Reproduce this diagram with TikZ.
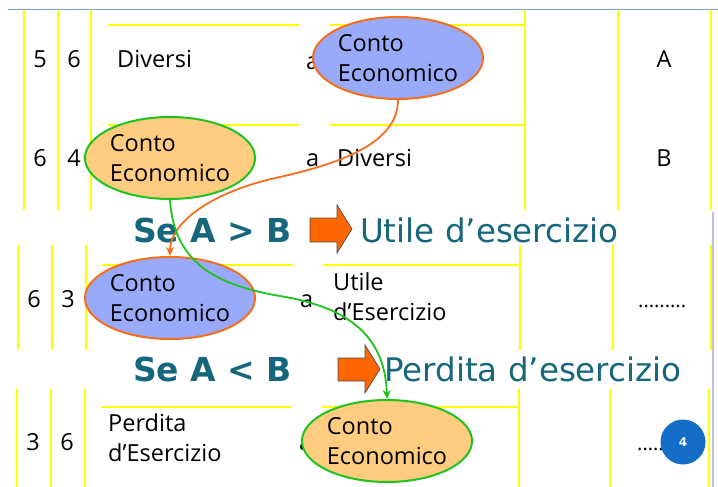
\documentclass[tikz,border=0pt]{standalone}
\usepackage{fontspec}
\setmainfont{Open Sans}
\newfontfamily\verdana{DejaVu Sans}
\usetikzlibrary{shapes.geometric, arrows.meta}
\definecolor{ceblue}{RGB}{153,170,250}
\definecolor{ceorange}{RGB}{255,204,128}
\definecolor{lineorange}{RGB}{245,110,30}
\definecolor{linegreen}{RGB}{30,195,30}
\definecolor{gridyellow}{RGB}{255,255,0}
\definecolor{seteal}{RGB}{22,102,124}
\definecolor{arroworange}{RGB}{255,102,0}
\definecolor{pageblue}{RGB}{20,110,200}
\newcommand{\cfont}{\fontsize{23.5}{30}\selectfont}

\begin{document}
\begin{tikzpicture}[x=1pt, y=-1pt,
    rule/.style={draw=gridyellow, line width=2.2pt},
    cell/.style={font=\cfont, anchor=base west, inner sep=0pt},
    num/.style={font=\cfont, anchor=base, inner sep=0pt},
    conto/.style={ellipse, draw, line width=2pt, minimum width=154pt, minimum height=82pt,
                  inner sep=0pt, align=left, font=\cfont},
    cond/.style={font=\verdana\bfseries\fontsize{33}{36}\selectfont, text=seteal, anchor=base west, inner sep=0pt},
    result/.style={font=\verdana\fontsize{32.5}{36}\selectfont, text=seteal, anchor=base west, inner sep=0pt},
    bigarrow/.style={draw=gray!60!black, fill=arroworange, line width=0.7pt},
    link/.style={line width=1.8pt, -{Stealth[length=9pt, width=8pt]}}]
    \useasboundingbox (0,0) rectangle (718,487);

    % page frame
    \draw[pageblue!60, line width=1pt] (8,10) -- (718,10);
    \draw[blue!20!gray!40, line width=2pt] (713,212) -- (713,487);

    % table rules
    \foreach \x in {24,58,91,525,618,711} \draw[rule] (\x,10) -- (\x,210);
    \foreach \y in {25,125} {
        \draw[rule] (108,\y) -- (299,\y);
        \draw[rule] (330,\y) -- (525,\y);
    }
    \foreach \x in {18,52,86,520,613,711} \draw[rule] (\x,245) -- (\x,350);
    \draw[rule] (102,265) -- (293,265);
    \draw[rule] (324,265) -- (520,265);
    \foreach \x in {17,51,85,519,610,709} \draw[rule] (\x,389) -- (\x,487);
    \draw[rule] (101,407) -- (292,407);
    \draw[rule] (322,407) -- (519,407);

    % first entries
    \node[num] (n1a) at (40,68) {5};
    \node[num] (n1b) at (74,68) {6};
    \node[cell] (dare1) at (117,68) {Diversi};
    \node[cell] (a1) at (306,70) {a};
    \node[conto, fill=ceblue, draw=lineorange] (ceA) at (398,58) {Conto\\Economico};
    \node[cell, anchor=base] (valA) at (664,68) {A};

    \node[num] (n2a) at (40,166) {6};
    \node[num] (n2b) at (74,166) {4};
    \node[conto, fill=ceorange, draw=linegreen] (ceB) at (170,158) {Conto\\Economico};
    \node[cell] (a2) at (306,166) {a};
    \node[cell] (avere2) at (337,166) {Diversi};
    \node[cell, anchor=base] (valB) at (664,166) {B};

    % case A > B
    \node[cond] (condU) at (133,242) {Se A > B};
    \draw[bigarrow] (310,218) -- (337,218) -- (337,205) -- (352,229) -- (337,253) -- (337,242) -- (310,242) -- cycle;
    \node[result] (utile) at (360,242) {Utile d’esercizio};

    \node[num] (n3a) at (34,307) {6};
    \node[num] (n3b) at (68,307) {3};
    \node[conto, fill=ceblue, draw=lineorange] (ceC) at (170,298) {Conto\\Economico};
    \node[cell] (a3) at (300,307) {a};
    \node[cell, align=left, anchor=north west] (avere3) at (333,272) {Utile\\d’Esercizio};
    \node[cell] (dots3) at (638,307) {\fontsize{20}{20}\selectfont .........};

    % case A < B
    \node[cond] (condP) at (133,381) {Se A < B};
    \draw[bigarrow] (338,358) -- (365,358) -- (365,345) -- (380,369) -- (365,393) -- (365,381) -- (338,381) -- cycle;
    \node[result] (perdita) at (384,381) {Perdita d’esercizio};

    \node[num] (n4a) at (33,450) {3};
    \node[num] (n4b) at (67,450) {6};
    \node[cell, align=left, anchor=north west] (dare4) at (108,413) {Perdita\\d’Esercizio};
    \node[cell] (a4) at (299,450) {a};
    \node[conto, fill=ceorange, draw=linegreen] (ceD) at (387,441) {Conto\\Economico};
    \node[cell] (dots4) at (637,450) {\fontsize{20}{20}\selectfont .........};

    \node[circle, fill=pageblue, minimum size=45pt, inner sep=0pt, text=white,
          font=\verdana\bfseries\fontsize{12}{12}\selectfont] (page) at (683,442) {4};

    % closing links
    \draw[link, lineorange] (ceA.south) .. controls (398,150) and (320,168) .. (267,180)
        .. controls (205,196) and (170,225) .. (ceC.north);
    \draw[link, linegreen] (ceB.south) .. controls (174,262) and (215,285) .. (280,296)
        .. controls (340,306) and (385,330) .. (ceD.north);
\end{tikzpicture}
\end{document}
